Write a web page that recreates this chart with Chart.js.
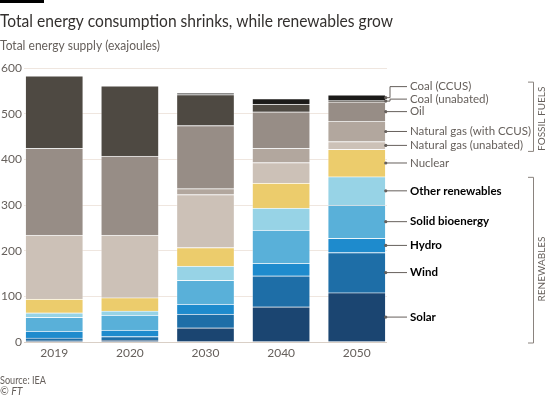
<!DOCTYPE html>
<html lang="en">
<head>
<meta charset="UTF-8">
<title>Total energy consumption shrinks, while renewables grow</title>
<script src="https://cdn.jsdelivr.net/npm/chart.js"></script>
<style>
    html, body { margin: 0; padding: 0; background: #fff; }
    #wrap { position: relative; width: 556px; height: 397px; }
</style>
</head>
<body>
<div id="wrap">
    <canvas id="energyChart" width="556" height="397"></canvas>
</div>

<script>
    // Total energy supply, exajoules
    const years = ['2019', '2020', '2030', '2040', '2050'];
    const solar        = [3, 4, 31, 77, 108];
    const wind         = [6, 8, 30, 68, 88];
    const hydro        = [15, 14, 22, 27, 31];
    const solidBio     = [30, 33, 52, 73, 73];
    const otherRenew   = [10, 9, 31, 48, 62];
    const nuclear      = [30, 29, 41, 55, 60];
    const gasUnabated  = [140, 137, 116, 45, 17];
    const gasCcus      = [0, 0, 13, 31, 44];
    const oil          = [190, 173, 138, 80, 43];
    const coalUnabated = [159, 154, 68, 17, 3];
    const coalCcus     = [0, 0, 3, 12, 12];
    const yTicks = [0, 100, 200, 300, 400, 500, 600];

    const FONT = 'Lato';
    const GREY = '#66605c';

    // stacking order, bottom to top
    const series = [
        { name: 'Solar', data: solar, color: '#1b4571', group: 'ren' },
        { name: 'Wind', data: wind, color: '#1e6ea7', group: 'ren' },
        { name: 'Hydro', data: hydro, color: '#1e8bcd', group: 'ren' },
        { name: 'Solid bioenergy', data: solidBio, color: '#59b0d9', group: 'ren' },
        { name: 'Other renewables', data: otherRenew, color: '#97d3e6', group: 'ren' },
        { name: 'Nuclear', data: nuclear, color: '#eccc6c', group: 'nuc' },
        { name: 'Natural gas (unabated)', data: gasUnabated, color: '#ccc1b7', group: 'fos' },
        { name: 'Natural gas (with CCUS)', data: gasCcus, color: '#b2a79e', group: 'fos' },
        { name: 'Oil', data: oil, color: '#978d86', group: 'fos' },
        { name: 'Coal (unabated)', data: coalUnabated, color: '#4e4942', group: 'fos' },
        { name: 'Coal (CCUS)', data: coalCcus, color: '#1c1b19', group: 'fos' }
    ];

    // titles, leader lines, brackets
    const annotations = {
        id: 'annotations',
        afterDraw(chart) {
            const ctx = chart.ctx;
            const area = chart.chartArea;
            ctx.save();

            ctx.fillStyle = '#000';
            ctx.fillRect(0, 0, 44, 3);

            ctx.textAlign = 'left';
            ctx.textBaseline = 'alphabetic';
            ctx.fillStyle = '#33302e';
            ctx.font = '17.5px ' + FONT;
            ctx.fillText('Total energy consumption shrinks, while renewables grow', 0, 27, 393);
            ctx.fillStyle = GREY;
            ctx.font = '12.5px ' + FONT;
            ctx.fillText('Total energy supply (exajoules)', 0, 50, 160);
            ctx.font = '10.5px ' + FONT;
            ctx.fillText('Source: IEA', 0, 384, 46);
            ctx.font = 'italic 10.5px ' + FONT;
            ctx.fillText('\u00A9 FT', 0, 394.5);

            // labels against the 2050 bar
            const last = years.length - 1;
            let prevY = Infinity;
            const labelY = [];
            ctx.textBaseline = 'middle';
            ctx.strokeStyle = GREY;
            ctx.lineWidth = 1;
            series.forEach((s, i) => {
                const bar = chart.getDatasetMeta(i).data[last];
                const mid = (bar.y + bar.base) / 2;
                const y = Math.min(mid, prevY - 12.5);
                prevY = y;
                labelY[i] = y;
                const x0 = bar.x + bar.width / 2;

                ctx.beginPath();
                ctx.moveTo(x0, mid);
                ctx.lineTo(390, mid);
                ctx.lineTo(390, y);
                ctx.lineTo(407, y);
                ctx.stroke();
                ctx.fillStyle = GREY;
                ctx.beginPath();
                ctx.arc(x0, mid, 1.6, 0, Math.PI * 2);
                ctx.fill();

                if (s.group === 'ren') {
                    ctx.fillStyle = '#000';
                    ctx.font = 'bold 11.5px ' + FONT;
                } else {
                    ctx.fillStyle = GREY;
                    ctx.font = '11.5px ' + FONT;
                }
                ctx.fillText(s.name, 410, y);
            });

            // brackets
            ctx.strokeStyle = '#8a837e';
            const bracket = (top, bottom) => {
                ctx.beginPath();
                ctx.moveTo(528, top + 0.5);
                ctx.lineTo(533.5, top + 0.5);
                ctx.lineTo(533.5, bottom - 0.5);
                ctx.lineTo(528, bottom - 0.5);
                ctx.stroke();
            };
            const fosTop = labelY[10] - 5;
            const fosBottom = labelY[6] + 6.5;
            const renTop = labelY[4] - 14;
            const renBottom = area.bottom + 1.5;
            bracket(fosTop, fosBottom);
            bracket(renTop, renBottom);

            ctx.fillStyle = GREY;
            ctx.font = '10px ' + FONT;
            ctx.textAlign = 'center';
            ctx.textBaseline = 'middle';
            const rotated = (text, y) => {
                ctx.save();
                ctx.translate(542, y);
                ctx.rotate(-Math.PI / 2);
                ctx.fillText(text, 0, 0);
                ctx.restore();
            };
            rotated('FOSSIL FUELS', (fosTop + fosBottom) / 2 + 2);
            rotated('RENEWABLES', 269);

            ctx.restore();
        }
    };

    const datasets = series.map(s => ({
        label: s.name,
        data: s.data.map((v, i) => ({ x: i, y: v })),
        backgroundColor: s.color,
        borderColor: 'rgba(255,255,255,0.3)',
        borderWidth: 1,
        borderSkipped: 'start',
        barThickness: 58
    }));

    new Chart(document.getElementById('energyChart'), {
        type: 'bar',
        data: { datasets: datasets },
        options: {
            responsive: false,
            animation: false,
            layout: { padding: { top: 68, right: 169, bottom: 35, left: 0 } },
            plugins: { legend: { display: false }, tooltip: { enabled: false } },
            scales: {
                x: {
                    type: 'linear',
                    bounds: 'data',
                    offset: false,
                    min: -0.4,
                    max: 4.4,
                    stacked: true,
                    afterFit(scale) { scale.height = 20; },
                    afterDataLimits(scale) { scale.min = -0.4; scale.max = 4.4; },
                    afterBuildTicks(scale) {
                        scale.min = -0.4;
                        scale.max = 4.4;
                        scale.ticks = years.map((y, i) => ({ value: i }));
                    },
                    ticks: {
                        padding: 4,
                        color: GREY,
                        font: { family: FONT, size: 12 },
                        maxRotation: 0,
                        autoSkip: false,
                        callback: v => years[v]
                    },
                    grid: { display: false, drawTicks: false, offset: false },
                    border: { display: false }
                },
                y: {
                    stacked: true,
                    min: 0,
                    max: 600,
                    afterFit(scale) { scale.width = 24; },
                    afterBuildTicks(scale) { scale.ticks = yTicks.map(v => ({ value: v })); },
                    ticks: {
                        padding: 2,
                        color: GREY,
                        font: { family: FONT, size: 12 }
                    },
                    grid: {
                        drawTicks: false,
                        color: c => c.tick && c.tick.value === 0 ? '#d9cfc6' : '#efe6df'
                    },
                    border: { display: false }
                }
            }
        },
        plugins: [annotations]
    });
</script>
</body>
</html>
